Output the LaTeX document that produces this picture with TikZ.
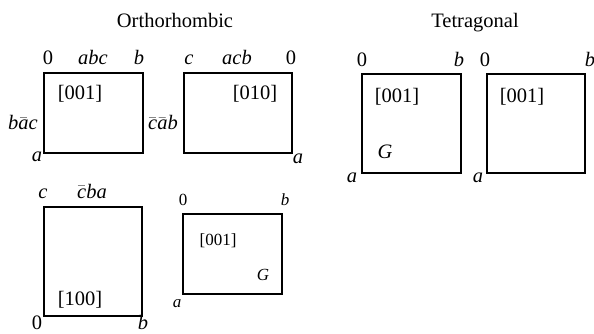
\documentclass[tikz,border=0pt]{standalone}
\usepackage{fontspec}
\setmainfont{Liberation Serif}
\usetikzlibrary{positioning}
\tikzset{
    cell/.style={draw, line width=1.2pt, inner sep=0pt, outer sep=0pt},
    lbl/.style={font=\fontsize{20.5}{24}\selectfont, inner sep=0pt, anchor=base},
    lblsmall/.style={font=\fontsize{17}{20}\selectfont, inner sep=0pt, anchor=base},
}
\newcommand{\barit}[1]{$\bar{\mbox{\itshape #1}}$}

\begin{document}
\begin{tikzpicture}[x=1pt, y=-1pt]

    \useasboundingbox (0,0) rectangle (594,334);

    \node[lbl] (ortho) at (175,28) {Orthorhombic};
    \node[lbl] (tetra) at (475,28) {Tetragonal};

    % orthorhombic, top left
    \node[cell, minimum width=99pt, minimum height=80pt] (b1) at (93.5,113) {};
    \node[lbl] (b1o) at (48,65) {0};
    \node[lbl] (b1abc) at (93,65) {\itshape abc};
    \node[lbl] (b1b) at (139,65) {\itshape b};
    \node[lbl] (b1dir) at (80,100) {[001]};
    \node[lbl] (b1bac) at (23,130) {\itshape b\barit{a}c};
    \node[lbl] (b1a) at (37,161) {\itshape a};

    % orthorhombic, top right
    \node[cell, minimum width=108pt, minimum height=80pt] (b2) at (238,113) {};
    \node[lbl] (b2c) at (189,65) {\itshape c};
    \node[lbl] (b2acb) at (237,65) {\itshape acb};
    \node[lbl] (b2o) at (291,65) {0};
    \node[lbl] (b2dir) at (255,100) {[010]};
    \node[lbl] (b2cab) at (163,130) {\barit{c}\barit{a}\itshape b};
    \node[lbl] (b2a) at (298,163) {\itshape a};

    % orthorhombic, bottom left
    \node[cell, minimum width=98pt, minimum height=109pt] (b3) at (93,261.5) {};
    \node[lbl] (b3c) at (43,198) {\itshape c};
    \node[lbl] (b3cba) at (92,198) {\barit{c}\itshape ba};
    \node[lbl] (b3dir) at (80,305) {[100]};
    \node[lbl] (b3o) at (37,329) {0};
    \node[lbl] (b3b) at (143,329) {\itshape b};

    % orthorhombic, bottom right
    \node[cell, minimum width=99pt, minimum height=80pt] (b4) at (232.5,254) {};
    \node[lblsmall] (b4o) at (183,205) {0};
    \node[lblsmall] (b4b) at (285,205) {\itshape b};
    \node[lblsmall] (b4dir) at (218,245) {[001]};
    \node[lblsmall] (b4g) at (263,280) {\itshape G};
    \node[lblsmall] (b4a) at (177,307) {\itshape a};

    % tetragonal, left
    \node[cell, minimum width=99pt, minimum height=99pt] (b5) at (411.5,123.5) {};
    \node[lbl] (b5o) at (362,67) {0};
    \node[lbl] (b5b) at (459,67) {\itshape b};
    \node[lbl] (b5dir) at (397,103) {[001]};
    \node[lbl] (b5g) at (385,158) {\itshape G};
    \node[lbl] (b5a) at (352,182) {\itshape a};

    % tetragonal, right
    \node[cell, minimum width=98pt, minimum height=99pt] (b6) at (536,123.5) {};
    \node[lbl] (b6o) at (485,67) {0};
    \node[lbl] (b6b) at (590,67) {\itshape b};
    \node[lbl] (b6dir) at (522,103) {[001]};
    \node[lbl] (b6a) at (478,182) {\itshape a};

\end{tikzpicture}
\end{document}
